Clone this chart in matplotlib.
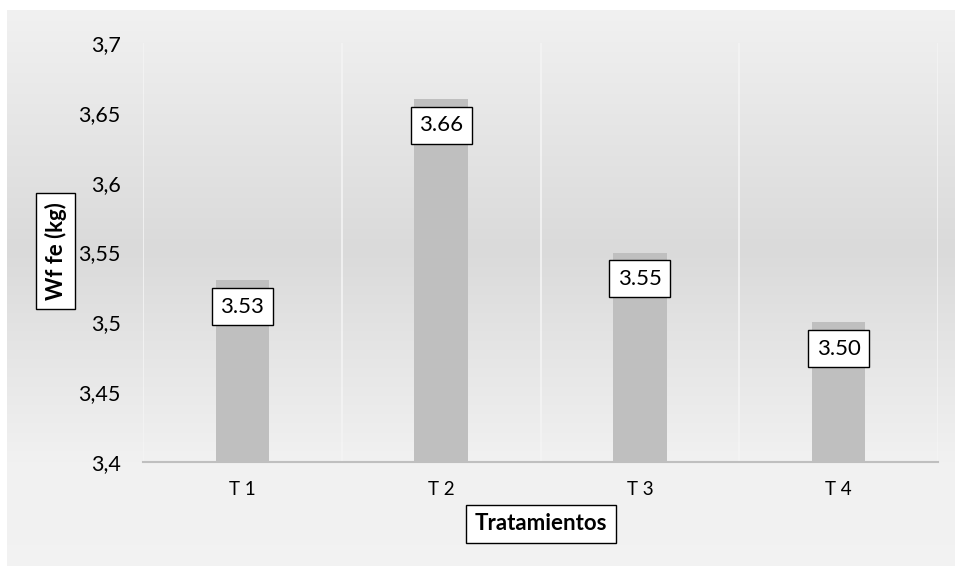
import matplotlib.pyplot as plt
import numpy as np

# ── Datos ────────────────────────────────────────────────────────────────────
categorias = ["T 1", "T 2", "T 3", "T 4"]
valores = [3.53, 3.66, 3.55, 3.50]
etiquetas = ["3.53", "3.66", "3.55", "3.50"]
yticks = [3.4, 3.45, 3.5, 3.55, 3.6, 3.65, 3.7]
ytick_labels = ["3,4", "3,45", "3,5", "3,55", "3,6", "3,65", "3,7"]

plt.rcParams["font.family"] = ["Lato", "DejaVu Sans"]

fig = plt.figure(figsize=(9.55, 5.67), dpi=100)

# fondo del gráfico con degradado (estilo Excel)
bg = fig.add_axes([7 / 955, 1 / 567, 948 / 955, 556 / 567], zorder=0)
pos = np.array([0.0, 0.43, 0.81, 1.0])
tono = np.array([0.945, 0.855, 0.945, 0.95])
filas = np.interp(np.linspace(0, 1, 400), pos, tono)
img = np.repeat(filas[:, None], 2, axis=1)
bg.imshow(np.dstack([img, img, img]), aspect="auto", extent=[0, 1, 0, 1])
bg.set_axis_off()

ax = fig.add_axes([143 / 955, 1 - 462 / 567, 795 / 955, 419 / 567], zorder=1)
ax.patch.set_alpha(0)

x = np.arange(len(categorias))
ax.bar(x, valores, width=0.27, color="#bfbfbf", zorder=2)

# líneas de cuadrícula verticales entre categorías
for b in np.arange(len(categorias) + 1) - 0.5:
    ax.axvline(b, color="#f4f4f4", lw=1.2, zorder=1)

for xi, v, t in zip(x, valores, etiquetas):
    ax.annotate(t, (xi, v), xytext=(0, -19), textcoords="offset points",
                ha="center", va="center", fontsize=16, zorder=3,
                bbox=dict(boxstyle="square,pad=0.38", fc="white", ec="black", lw=1))

ax.set_xlim(-0.5, len(categorias) - 0.5)
ax.set_ylim(3.4, 3.7)
ax.set_yticks(yticks)
ax.set_yticklabels(ytick_labels)
ax.set_xticks(x)
ax.set_xticklabels(categorias)
ax.tick_params(axis="y", length=0, pad=16, labelsize=15.5, colors="#000000")
ax.tick_params(axis="x", length=0, pad=14, labelsize=13.5, colors="#000000")
for s in ["top", "right", "left"]:
    ax.spines[s].set_visible(False)
ax.spines["bottom"].set_color("#bfbfbf")
ax.spines["bottom"].set_linewidth(1.5)

fig.text(55.5 / 955, 1 - 251 / 567, "Wf fe (kg)", rotation=90, ha="center", va="center",
         fontsize=16, fontweight="bold",
         bbox=dict(boxstyle="square,pad=0.4", fc="white", ec="black", lw=1))
fig.text(541 / 955, 1 - 524 / 567, "Tratamientos", ha="center", va="center",
         fontsize=16, fontweight="bold",
         bbox=dict(boxstyle="square,pad=0.4", fc="white", ec="black", lw=1))

fig.savefig("out.png", dpi=100)
